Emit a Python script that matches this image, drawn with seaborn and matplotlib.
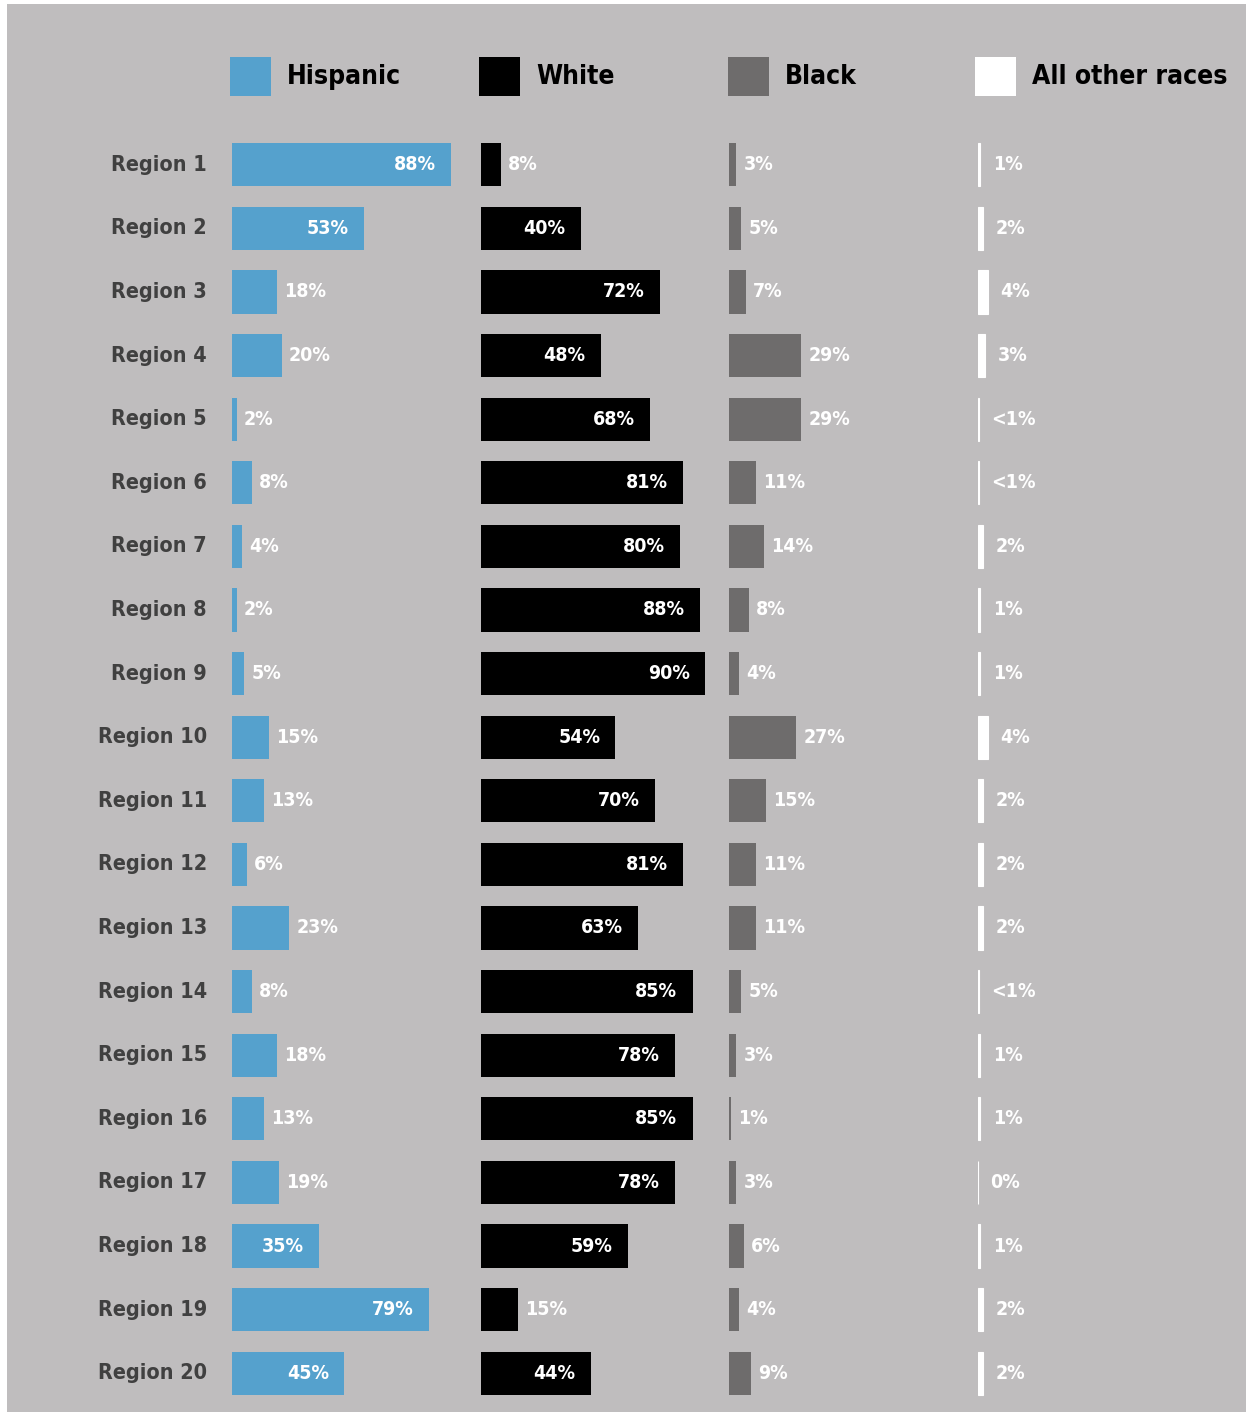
import matplotlib
matplotlib.use("Agg")
import matplotlib.pyplot as plt
from matplotlib.patches import Rectangle
import numpy as np
import pandas as pd
import seaborn as sns

# ---- data -------------------------------------------------------------
regions = [f"Region {i}" for i in range(1, 21)]

hispanic = [88, 53, 18, 20, 2, 8, 4, 2, 5, 15, 13, 6, 23, 8, 18, 13, 19, 35, 79, 45]
white = [8, 40, 72, 48, 68, 81, 80, 88, 90, 54, 70, 81, 63, 85, 78, 85, 78, 59, 15, 44]
black = [3, 5, 7, 29, 29, 11, 14, 8, 4, 27, 15, 11, 11, 5, 3, 1, 3, 6, 4, 9]
other_labels = ["1%", "2%", "4%", "3%", "<1%", "<1%", "2%", "1%", "1%", "4%",
                "2%", "2%", "2%", "<1%", "1%", "1%", "0%", "1%", "2%", "2%"]
other = [0.4 if s.startswith("<") else float(s.rstrip("%")) for s in other_labels]

series_names = ["Hispanic", "White", "Black", "All other races"]
series_values = [hispanic, white, black, other]
series_labels = [[f"{v}%" for v in hispanic], [f"{v}%" for v in white],
                 [f"{v}%" for v in black], other_labels]

# ---- styling ----------------------------------------------------------
BG = "#bfbdbe"
colors = ["#55a1cd", "#000000", "#6e6c6c", "#ffffff"]
LABEL_GRAY = "#404040"

sns.set_theme(style="white")
plt.rcParams["font.family"] = ["DejaVu Sans"]
plt.rcParams["font.stretch"] = "condensed"
TXT = dict(fontweight="bold", fontstretch="condensed")

W, H = 1252, 1416
fig = plt.figure(figsize=(W / 100, H / 100), dpi=100)
fig.patch.set_facecolor("white")
# grey card behind everything
fig.patches.append(Rectangle((7 / W, 4 / H), (1246 - 7) / W, (1412 - 4) / H,
                             transform=fig.transFigure, facecolor=BG,
                             edgecolor="none", zorder=-10))


def px_axes(x0, y_top, w, h):
    return fig.add_axes([x0 / W, 1 - (y_top + h) / H, w / W, h / H])


panel_left = [232, 481, 729, 978]
panel_w = 249
top, row_h = 133, 63.6
plot_h = row_h * 20

for k, (name, vals, labs, col) in enumerate(zip(series_names, series_values,
                                                 series_labels, colors)):
    ax = px_axes(panel_left[k], top, panel_w, plot_h)
    df = pd.DataFrame({"region": regions, "value": vals})
    sns.barplot(data=df, x="value", y="region", order=regions, orient="h",
                color=col, saturation=1, width=0.68, ax=ax,
                edgecolor=col, linewidth=0.8 if k == 3 else 0)
    ax.set_xlim(0, 100)
    ax.set_ylim(19.5, -0.5)
    ax.set_facecolor("none")
    ax.axis("off")
    for i, (v, s) in enumerate(zip(vals, labs)):
        if v >= 30:
            ax.annotate(s, (v, i), xytext=(-11, 0), textcoords="offset points",
                        ha="right", va="center", color="white",
                        fontsize=14, **TXT)
        else:
            dx = 9 if k == 3 else 5
            ax.annotate(s, (v, i), xytext=(dx, 0), textcoords="offset points",
                        ha="left", va="center", color="white",
                        fontsize=14, **TXT)
    if k == 0:
        for i, r in enumerate(regions):
            ax.annotate(r, (0, i), xytext=(-18, 0), textcoords="offset points",
                        ha="right", va="center", color=LABEL_GRAY,
                        fontsize=15.5, annotation_clip=False, **TXT)

# legend row across the top
legend_x = [230, 479, 728, 975]
for x0, name, col in zip(legend_x, series_names, colors):
    fig.patches.append(Rectangle((x0 / W, 1 - 96 / H), 41 / W, 39 / H,
                                 transform=fig.transFigure, facecolor=col,
                                 edgecolor="none"))
    fig.text((x0 + 57) / W, 1 - 77 / H, name, ha="left", va="center",
             fontsize=19, color="black", **TXT)

fig.savefig("out.png", dpi=100, facecolor=fig.get_facecolor())
